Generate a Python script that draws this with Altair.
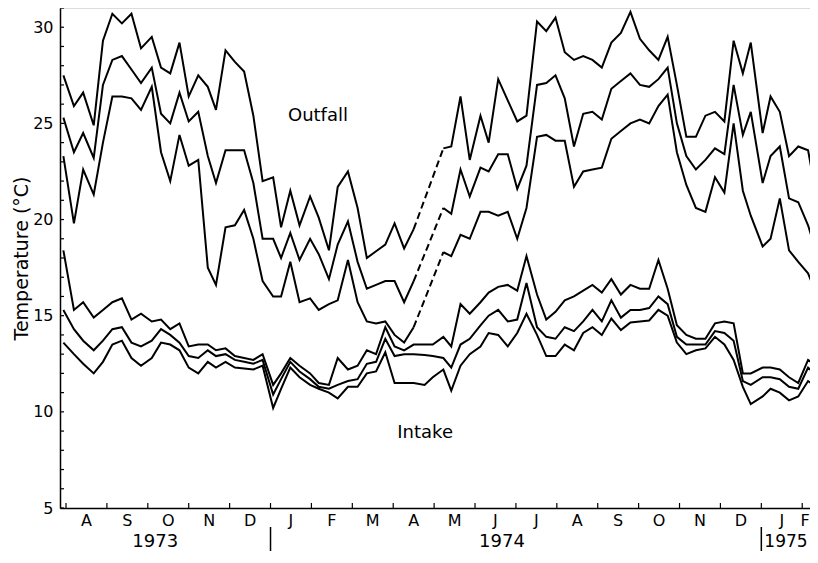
import altair as alt
import pandas as pd

# Weekly sampling dates
dates = [
    "1973-07-30", "1973-08-07", "1973-08-14", "1973-08-22", "1973-08-29",
    "1973-09-05", "1973-09-12", "1973-09-19", "1973-09-26",
    "1973-10-04", "1973-10-11", "1973-10-18", "1973-10-25",
    "1973-11-01", "1973-11-08", "1973-11-15", "1973-11-21", "1973-11-28",
    "1973-12-05", "1973-12-12", "1973-12-19", "1973-12-26",
    "1974-01-03", "1974-01-09", "1974-01-16", "1974-01-23", "1974-01-31",
    "1974-02-06", "1974-02-13", "1974-02-19", "1974-02-26",
    "1974-03-05", "1974-03-12", "1974-03-19", "1974-03-26",
    "1974-04-02", "1974-04-09", "1974-04-16", "1974-04-24", "1974-04-30",
    "1974-05-08", "1974-05-14", "1974-05-21", "1974-05-28",
    "1974-06-05", "1974-06-11", "1974-06-18", "1974-06-25",
    "1974-07-02", "1974-07-09", "1974-07-17", "1974-07-24", "1974-07-31",
    "1974-08-07", "1974-08-14", "1974-08-21", "1974-08-28",
    "1974-09-04", "1974-09-11", "1974-09-18", "1974-09-25",
    "1974-10-02", "1974-10-09", "1974-10-16", "1974-10-23", "1974-10-30",
    "1974-11-06", "1974-11-13", "1974-11-20", "1974-11-27",
    "1974-12-04", "1974-12-11", "1974-12-18", "1974-12-24",
    "1975-01-02", "1975-01-08", "1975-01-15", "1975-01-22", "1975-01-29",
    "1975-02-05", "1975-02-11",
]

outfall_max = [
    27.5, 25.9, 26.6, 24.9, 29.3, 30.7, 30.2, 30.7, 28.9, 29.5,
    27.9, 27.6, 29.2, 26.4, 27.5, 26.9, 25.7, 28.8, 28.2, 27.7,
    25.4, 22.0, 22.2, 19.6, 21.5, 19.7, 21.2, 20.1, 18.4, 21.7,
    22.5, 20.6, 18.0, 18.35, 18.7, 19.8, 18.5, 19.5, None, None,
    23.7, 23.8, 26.4, 23.1, 25.4, 24.0, 27.3, 26.2, 25.1, 25.4,
    30.3, 29.8, 30.5, 28.7, 28.3, 28.5, 28.3, 27.9, 29.2, 29.7,
    30.8, 29.4, 28.8, 28.3, 29.5, 27.0, 24.3, 24.3, 25.4, 25.6,
    25.1, 29.3, 27.6, 29.2, 24.5, 26.4, 25.6, 23.3, 23.8, 23.6, 21.1,
]

outfall_mean = [
    25.3, 23.5, 24.5, 23.2, 27.0, 28.3, 28.5, 27.8, 27.1, 27.9,
    25.5, 25.0, 26.6, 25.1, 25.6, 23.3, 21.9, 23.6, 23.6, 23.6,
    21.9, 19.0, 19.0, 18.0, 19.3, 17.9, 19.0, 18.2, 16.9, 18.7,
    19.9, 17.8, 16.4, 16.6, 16.8, 16.8, 15.7, 16.8, None, None,
    20.6, 20.3, 22.6, 21.2, 22.7, 22.5, 23.4, 23.4, 21.6, 22.8,
    27.0, 27.1, 27.5, 26.3, 23.8, 25.5, 25.6, 25.2, 26.8, 27.2,
    27.6, 27.0, 26.9, 27.3, 27.9, 25.0, 23.3, 22.6, 23.1, 23.7,
    23.4, 27.0, 24.4, 25.6, 21.9, 23.3, 23.8, 21.1, 20.9, 19.7, 18.2,
]

outfall_min = [
    23.3, 19.8, 22.6, 21.3, 24.0, 26.4, 26.4, 26.3, 25.7, 26.9,
    23.5, 22.0, 24.4, 22.8, 23.1, 17.5, 16.6, 19.6, 19.7, 20.5,
    19.0, 16.8, 16.0, 16.0, 17.8, 15.7, 15.9, 15.3, 15.6, 15.8,
    17.9, 15.7, 14.7, 14.6, 14.7, 14.0, 13.6, 14.4, None, None,
    18.3, 18.1, 19.2, 19.0, 20.4, 20.4, 20.2, 20.4, 19.0, 20.6,
    24.3, 24.4, 24.1, 24.1, 21.7, 22.5, 22.6, 22.7, 24.2, 24.6,
    25.0, 25.2, 25.0, 25.9, 26.5, 23.5, 21.8, 20.6, 20.4, 22.2,
    21.4, 25.0, 21.5, 20.2, 18.6, 19.0, 21.1, 18.4, 17.8, 17.2, 16.1,
]

intake_max = [
    18.4, 15.3, 15.7, 14.9, 15.3, 15.7, 15.9, 14.8, 15.1, 14.7,
    14.8, 14.3, 14.6, 13.4, 13.5, 13.5, 13.2, 13.3, 12.9, 12.8,
    12.7, 13.0, 11.4, 12.0, 12.8, 12.4, 12.0, 11.5, 11.4, 12.8,
    12.2, 12.4, 13.2, 13.0, 14.4, 13.4, 13.2, 13.5, 13.5, 13.5,
    13.9, 13.4, 15.6, 15.1, 15.7, 16.2, 16.5, 16.6, 16.3, 18.1,
    16.1, 14.8, 15.2, 15.8, 16.0, 16.3, 16.6, 16.2, 16.9, 16.1,
    16.6, 16.4, 16.4, 17.9, 16.4, 14.5, 14.0, 13.8, 13.8, 14.6,
    14.7, 14.6, 12.0, 12.0, 12.3, 12.3, 12.2, 11.8, 11.5, 12.7, 12.4,
]

intake_mean = [
    15.3, 14.3, 13.7, 13.2, 13.7, 14.3, 14.4, 13.6, 13.4, 13.7,
    14.3, 14.0, 13.6, 12.9, 12.8, 13.2, 12.9, 13.0, 12.7, 12.6,
    12.5, 12.7, 10.9, 11.7, 12.6, 12.1, 11.7, 11.3, 11.2, 11.4,
    11.6, 11.7, 12.5, 12.6, 13.8, 12.9, 13.0, 13.0, 12.95, 12.9,
    12.8, 12.3, 13.5, 13.8, 14.5, 15.0, 15.3, 14.7, 14.8, 16.7,
    14.4, 13.9, 13.8, 14.4, 14.2, 14.7, 15.3, 14.7, 15.8, 14.9,
    15.3, 15.3, 15.4, 16.0, 15.6, 13.9, 13.5, 13.5, 13.5, 14.2,
    14.1, 13.7, 11.6, 11.4, 11.8, 11.8, 11.7, 11.3, 11.2, 12.3, 11.9,
]

intake_min = [
    13.6, 13.0, 12.5, 12.0, 12.6, 13.5, 13.7, 12.8, 12.4, 12.8,
    13.6, 13.5, 13.2, 12.3, 12.0, 12.6, 12.3, 12.6, 12.3, 12.25,
    12.2, 12.4, 10.2, 11.2, 12.3, 11.8, 11.4, 11.2, 11.0, 10.7,
    11.3, 11.3, 12.0, 12.1, 13.1, 11.5, 11.5, 11.5, 11.4, 11.8,
    12.2, 11.1, 12.4, 13.0, 13.4, 14.1, 14.0, 13.4, 14.1, 15.1,
    14.0, 12.9, 12.9, 13.5, 13.2, 14.1, 14.4, 14.0, 14.85, 14.25,
    14.65, 14.7, 14.75, 15.3, 15.0, 13.6, 13.0, 13.2, 13.3, 13.9,
    13.5, 12.7, 11.3, 10.4, 10.8, 11.2, 11.0, 10.6, 10.8, 11.6, 11.3,
]

# Axis text
month_letters = ["A", "S", "O", "N", "D", "J", "F", "M", "A", "M",
                 "J", "J", "A", "S", "O", "N", "D", "J", "F"]
year_labels = ["1973", "1974"]
year_centers = [3.18, 11.66]
last_year_label = "1975"
year_breaks = [6, 18]
annotation_text = ["Outfall", "Intake"]
annotation_pos = [7.16, 9.78]
annotation_temp = [25.4, 8.9]

# Layout
X_MIN, X_MAX = 0.853, 19.19
Y_MIN, Y_MAX = 5, 31
W, H = 750, 500
FONT = "DejaVu Sans"


def month_position(s):
    dt = pd.to_datetime(s)
    return (dt.dt.year - 1973) * 12 + (dt.dt.month - 7) + (dt.dt.day - 1) / dt.dt.days_in_month


series = [
    ("outfall_max", outfall_max), ("outfall_mean", outfall_mean), ("outfall_min", outfall_min),
    ("intake_max", intake_max), ("intake_mean", intake_mean), ("intake_min", intake_min),
]

rows, dash_rows = [], []
for name, vals in series:
    gap = 0
    for i, (d, v) in enumerate(zip(dates, vals)):
        if v is None:
            if i > 0 and vals[i - 1] is not None:
                gap += 1
            continue
        rows.append({"date": d, "temp": v, "segment": f"{name}_{gap}"})
    for i in range(1, len(vals)):
        if vals[i] is None and vals[i - 1] is not None:
            j = i
            while j < len(vals) and vals[j] is None:
                j += 1
            if j < len(vals):
                dash_rows.append({"date": dates[i - 1], "temp": vals[i - 1], "segment": f"{name}_gap{i}"})
                dash_rows.append({"date": dates[j], "temp": vals[j], "segment": f"{name}_gap{i}"})

df = pd.DataFrame(rows)
df["pos"] = month_position(df["date"])
dash_df = pd.DataFrame(dash_rows)
dash_df["pos"] = month_position(dash_df["date"])

xscale = alt.Scale(domain=[X_MIN, X_MAX], nice=False, zero=False)
yscale = alt.Scale(domain=[Y_MIN, Y_MAX], nice=False, zero=False)

x_main = alt.X("pos:Q", scale=xscale,
               axis=alt.Axis(labels=False, ticks=False, grid=False, domain=True,
                             domainColor="black", domainWidth=1.5, title=None))
y_main = alt.Y("temp:Q", scale=yscale,
               axis=alt.Axis(values=[5, 10, 15, 20, 25, 30], ticks=False, grid=False,
                             domain=True, domainColor="black", domainWidth=1.5,
                             labelFontSize=16, labelColor="black", labelPadding=7,
                             labelFont=FONT, title="Temperature (°C)", titleFont=FONT,
                             titleFontSize=19, titleFontWeight="normal",
                             titleColor="black", titleX=-39, titleY=H / 2,
                             titleAlign="center", titleBaseline="middle"))

lines = alt.Chart(df).mark_line(color="black", strokeWidth=2, clip=True).encode(
    x=x_main, y=y_main, detail="segment:N", order="pos:Q")

dashed = alt.Chart(dash_df).mark_line(color="black", strokeWidth=2, strokeDash=[7, 4], clip=True).encode(
    x=alt.X("pos:Q", scale=xscale), y=alt.Y("temp:Q", scale=yscale), detail="segment:N")

# inward ticks
ytick_df = pd.DataFrame({"temp": list(range(Y_MIN, Y_MAX + 1))})
yticks = alt.Chart(ytick_df).mark_rule(color="black", strokeWidth=1.2).encode(
    y=alt.Y("temp:Q", scale=yscale), x=alt.value(0), x2=alt.value(4))

xtick_df = pd.DataFrame({"pos": list(range(1, len(month_letters) + 1))})
xticks = alt.Chart(xtick_df).mark_rule(color="black", strokeWidth=1.2).encode(
    x=alt.X("pos:Q", scale=xscale), y=alt.value(H), y2=alt.value(H - 5))

month_df = pd.DataFrame({
    "pos": [min(k + 1.5, X_MAX - 0.12) for k in range(len(month_letters))],
    "label": month_letters,
})
months = alt.Chart(month_df).mark_text(fontSize=16, font=FONT, color="black", baseline="middle").encode(
    x=alt.X("pos:Q", scale=xscale), y=alt.value(H + 13), text="label:N")

year_df = pd.DataFrame({"pos": year_centers, "label": year_labels})
years = alt.Chart(year_df).mark_text(fontSize=18, font=FONT, color="black", baseline="middle").encode(
    x=alt.X("pos:Q", scale=xscale), y=alt.value(H + 34), text="label:N")

last_year_df = pd.DataFrame({"pos": [year_breaks[-1]], "label": [last_year_label]})
last_year = alt.Chart(last_year_df).mark_text(fontSize=17, font=FONT, color="black",
                                              baseline="middle", align="left", dx=3).encode(
    x=alt.X("pos:Q", scale=xscale), y=alt.value(H + 34), text="label:N")

break_df = pd.DataFrame({"pos": year_breaks})
breaks = alt.Chart(break_df).mark_rule(color="black", strokeWidth=1.5).encode(
    x=alt.X("pos:Q", scale=xscale), y=alt.value(H + 19), y2=alt.value(H + 45))

ann_df = pd.DataFrame({"pos": annotation_pos, "temp": annotation_temp, "label": annotation_text})
annotations = alt.Chart(ann_df).mark_text(fontSize=18, font=FONT, color="black").encode(
    x=alt.X("pos:Q", scale=xscale), y=alt.Y("temp:Q", scale=yscale), text="label:N")

chart = alt.layer(lines, dashed, yticks, xticks, months, years, last_year, breaks, annotations).properties(
    width=W, height=H,
    padding={"left": 52, "top": 0, "right": 0, "bottom": 43},
    autosize=alt.AutoSizeParams(type="none"),
).configure_view(stroke=None).configure(font=FONT)

chart.save("out.html", embed_options={"renderer": "svg", "actions": False})
